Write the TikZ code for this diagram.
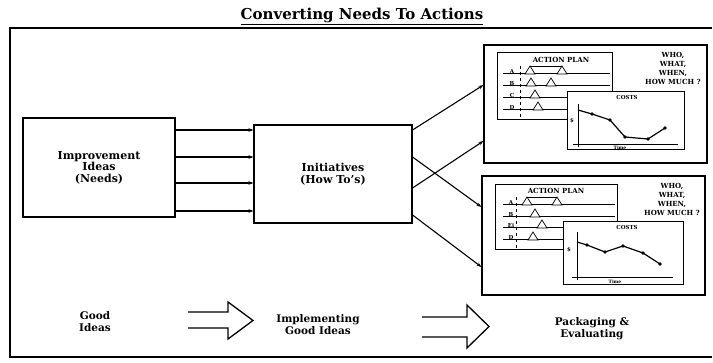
\documentclass[tikz,border=0pt]{standalone}
\usepackage{fontspec}
\setmainfont{DejaVu Serif}
\usetikzlibrary{arrows.meta}
\begin{document}
\begin{tikzpicture}[x=1pt,y=-1pt,
  frame/.style={line width=1.3pt},
  bigbox/.style={draw,line width=1.1pt,minimum width=#1,inner sep=0pt,align=center,
     font=\fontsize{11}{11.5}\selectfont\bfseries},
  panel/.style={draw,line width=1pt},
  conn/.style={line width=1.1pt,-{Stealth[length=5pt,width=3.5pt]}},
  lbl/.style={align=center,font=\fontsize{10.5}{12}\selectfont\bfseries},
  hollow/.style={line width=1.3pt,line join=miter},
  tiny/.style={inner sep=0pt,font=\fontsize{5.5}{6}\selectfont\bfseries},
  aptitle/.style={inner sep=0pt,font=\fontsize{7}{8}\selectfont\bfseries},
  who/.style={inner sep=0pt,align=center,font=\fontsize{7}{9}\selectfont\bfseries},
  row/.style={line width=1pt},
  tri/.style={line width=0.7pt,fill=white},
  curve/.style={line width=1.2pt},
  dot/.style={fill,circle,inner sep=1.3pt}
]
\useasboundingbox (0,0) rectangle (713,363);

% title
\node[font=\fontsize{15}{17}\selectfont\bfseries] (title) at (362,16) {\underline{Converting Needs To Actions}};

% outer frame
\draw[frame] (712,28) -- (10,28) -- (10,357) -- (712,357);

% main boxes
\node[bigbox=152pt,minimum height=99pt] (L) at (99,167.5) {Improvement\\Ideas\\(Needs)};
\node[bigbox=158pt,minimum height=98pt] (M) at (333,174) {Initiatives\\(How To's)};
\node[draw,line width=1.1pt,minimum width=223pt,minimum height=118pt,inner sep=0pt] (U) at (595.5,104) {};
\node[draw,line width=1.1pt,minimum width=223pt,minimum height=119pt,inner sep=0pt] (W) at (593.5,235.5) {};

% connectors left to middle
\foreach \yy in {130,157,183,211}{
  \draw[conn] (L.east |- 0,\yy) -- (M.west |- 0,\yy);
}
% connectors middle to right
\draw[conn] (M.east |- 0,130) -- (U.west |- 0,85);
\draw[conn] (M.east |- 0,188) -- (U.west |- 0,141);
\draw[conn] (M.east |- 0,157) -- (W.west |- 0,207);
\draw[conn] (M.east |- 0,215) -- (W.west |- 0,267);

% ---------- upper panel ----------
\draw[panel] (497,53) rectangle (612,120);
\node[aptitle] (ap1) at (561,60) {ACTION PLAN};
\foreach \lab/\yy in {A/74,B/86,C/98,D/110}{
  \draw[row] (503,\yy) -- (610,\yy);
  \node[tiny,anchor=south] at (512,\yy-0.5) {\lab};
}
\draw[line width=0.6pt,dashed] (520,66) -- (520,118);
\draw[tri] (525,74) -- (530,66) -- (535,74) -- cycle;
\draw[tri] (557,74) -- (562,66) -- (567,74) -- cycle;
\draw[line width=0.7pt] (530,66) -- (562,66);
\draw[tri] (526,86) -- (531,78) -- (536,86) -- cycle;
\draw[tri] (546,86) -- (551,78) -- (556,86) -- cycle;
\draw[tri] (530,98) -- (535,90) -- (540,98) -- cycle;
\draw[tri] (533,110) -- (538,102) -- (543,110) -- cycle;
\node[who] (who1) at (673,68.5) {WHO,\\WHAT,\\WHEN,\\HOW MUCH ?};
% costs
\draw[panel,fill=white] (567,92) rectangle (684,150);
\node[tiny] (c1) at (627,97.5) {COSTS};
\draw[line width=0.9pt] (578,104) -- (578,147);
\draw[line width=0.9pt] (573,144) -- (678,144);
\node[tiny] at (572,121) {\$};
\node[tiny,font=\fontsize{4.5}{5}\selectfont\bfseries] at (620,148) {Time};
\draw[curve] (578,110) -- (592,114) -- (610,120) -- (625,137) -- (648,139) -- (665,128);
\foreach \p in {(592,114),(610,120),(625,137),(648,139),(665,128)} \node[dot] at \p {};

% ---------- lower panel ----------
\draw[panel] (495,185) rectangle (617,250);
\node[aptitle] (ap2) at (556,191) {ACTION PLAN};
\foreach \lab/\yy in {A/205,B/217,Ei/228,D/240}{
  \draw[row] (503,\yy) -- (615,\yy);
  \node[tiny,anchor=south] at (511,\yy-0.5) {\lab};
}
\draw[line width=0.6pt,dashed] (516,197) -- (516,248);
\draw[tri] (522,205) -- (527,197) -- (532,205) -- cycle;
\draw[tri] (552,205) -- (557,197) -- (562,205) -- cycle;
\draw[line width=0.7pt] (527,197) -- (557,197);
\draw[tri] (530,217) -- (535,209) -- (540,217) -- cycle;
\draw[tri] (537,228) -- (542,220) -- (547,228) -- cycle;
\draw[tri] (528,240) -- (533,232) -- (538,240) -- cycle;
\node[who] (who2) at (672,199) {WHO,\\WHAT,\\WHEN,\\HOW MUCH ?};
\draw[panel,fill=white] (563,222) rectangle (683,285);
\node[tiny] (c2) at (627,227.5) {COSTS};
\draw[line width=0.9pt] (577,232) -- (577,280);
\draw[line width=0.9pt] (572,277) -- (673,277);
\node[tiny] at (569,250) {\$};
\node[tiny,font=\fontsize{4.5}{5}\selectfont\bfseries] at (615,281.5) {Time};
\draw[curve] (577,242) -- (587,245) -- (605,252) -- (623,246) -- (643,253) -- (660,264);
\foreach \p in {(587,245),(605,252),(623,246),(643,253),(660,264)} \node[dot] at \p {};

% ---------- bottom row ----------
\node[lbl] (g1) at (95,322) {Good\\Ideas};
\node[lbl] (g2) at (318,325) {Implementing\\Good Ideas};
\node[lbl] (g3) at (592,329) {Packaging \&\\Evaluating};
\draw[hollow] (188,312) -- (228,312) -- (228,302) -- (253,320.5) -- (228,339) -- (228,328) -- (188,328);
\draw[hollow] (422,317) -- (467,317) -- (467,305) -- (489,326.5) -- (467,348) -- (467,337) -- (422,337);
\end{tikzpicture}
\end{document}
